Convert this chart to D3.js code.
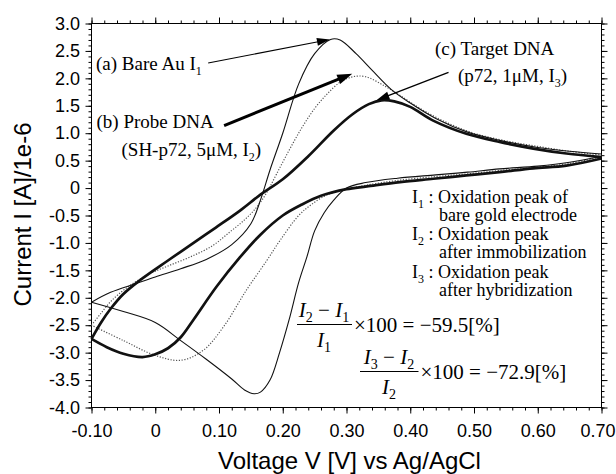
<!DOCTYPE html>
<html lang="en">
<head>
<meta charset="UTF-8">
<title>Cyclic voltammogram</title>
<script src="https://d3js.org/d3.v7.min.js"></script>
<style>
  body { margin: 0; background: #fff; }
  svg { display: block; }
</style>
</head>
<body>
<div id="chart"></div>
<script>
var width = 616, height = 474;
var margin = {top: 23.5, right: 14.5, bottom: 66.5, left: 91.5};

// axis ticks
var xTicks = [-0.1, 0, 0.1, 0.2, 0.3, 0.4, 0.5, 0.6, 0.7];
var xTickLabels = ["-0.10", "0", "0.10", "0.20", "0.30", "0.40", "0.50", "0.60", "0.70"];
var yTicks = [3, 2.5, 2, 1.5, 1, 0.5, 0, -0.5, -1, -1.5, -2, -2.5, -3, -3.5, -4];
var yTickLabels = ["3.0", "2.5", "2.0", "1.5", "1.0", "0.5", "0", "-0.5", "-1.0", "-1.5", "-2.0", "-2.5", "-3.0", "-3.5", "-4.0"];

// (a) Bare Au : forward scan then reverse scan
var bareV = [-0.10, -0.07, -0.03, 0.00, 0.04, 0.08, 0.12, 0.15, 0.165, 0.18, 0.20, 0.225, 0.25, 0.275, 0.29, 0.315, 0.34, 0.37, 0.40, 0.44, 0.49, 0.54, 0.60, 0.65, 0.70,
             0.70, 0.65, 0.60, 0.54, 0.49, 0.44, 0.38, 0.33, 0.30, 0.28, 0.265, 0.25, 0.238, 0.225, 0.21, 0.195, 0.18, 0.165, 0.155, 0.14, 0.12, 0.08, 0.04, 0.00, -0.05, -0.10];
var bareI = [-2.08, -1.90, -1.74, -1.62, -1.47, -1.30, -1.03, -0.65, -0.22, 0.33, 1.00, 1.90, 2.45, 2.71, 2.70, 2.45, 2.15, 1.80, 1.55, 1.27, 1.02, 0.87, 0.74, 0.67, 0.62,
             0.58, 0.47, 0.40, 0.35, 0.29, 0.24, 0.18, 0.10, 0.00, -0.22, -0.45, -0.78, -1.25, -1.72, -2.40, -3.00, -3.50, -3.72, -3.75, -3.68, -3.48, -3.12, -2.78, -2.45, -2.25, -2.08];

// (b) Probe DNA
var probeV = [-0.10, -0.085, -0.07, -0.045, -0.01, 0.02, 0.054, 0.09, 0.117, 0.14, 0.159, 0.175, 0.19, 0.21, 0.23, 0.25, 0.27, 0.29, 0.31, 0.33, 0.36, 0.385, 0.42, 0.46, 0.50, 0.55, 0.60, 0.65, 0.70,
              0.70, 0.65, 0.60, 0.54, 0.49, 0.44, 0.38, 0.33, 0.30, 0.27, 0.245, 0.225, 0.196, 0.175, 0.143, 0.107, 0.075, 0.04, 0.00, -0.05, -0.10];
var probeI = [-2.50, -2.28, -2.07, -1.82, -1.57, -1.42, -1.26, -1.05, -0.80, -0.58, -0.35, -0.08, 0.25, 0.69, 1.10, 1.45, 1.72, 1.93, 2.03, 2.03, 1.86, 1.68, 1.42, 1.18, 1.00, 0.86, 0.76, 0.67, 0.60,
              0.57, 0.45, 0.38, 0.32, 0.26, 0.21, 0.14, 0.05, -0.02, -0.12, -0.30, -0.50, -0.95, -1.32, -1.86, -2.53, -2.96, -3.14, -3.05, -2.78, -2.50];

// (c) Target DNA
var targetV = [-0.10, -0.085, -0.07, -0.05, -0.024, 0.02, 0.055, 0.095, 0.133, 0.165, 0.20, 0.24, 0.28, 0.31, 0.335, 0.355, 0.375, 0.40, 0.436, 0.488, 0.54, 0.593, 0.645, 0.70,
               0.70, 0.645, 0.593, 0.54, 0.488, 0.436, 0.384, 0.332, 0.30, 0.26, 0.23, 0.20, 0.165, 0.133, 0.096, 0.06, 0.04, 0.02, 0.00, -0.02, -0.05, -0.076, -0.10];
var targetI = [-2.75, -2.45, -2.20, -1.93, -1.68, -1.32, -1.04, -0.72, -0.41, -0.12, 0.16, 0.58, 1.05, 1.35, 1.53, 1.60, 1.58, 1.48, 1.23, 0.99, 0.84, 0.72, 0.63, 0.565,
               0.54, 0.41, 0.36, 0.29, 0.23, 0.17, 0.11, 0.03, -0.02, -0.14, -0.30, -0.50, -0.85, -1.26, -1.80, -2.40, -2.72, -2.92, -3.03, -3.08, -3.02, -2.90, -2.75];

// arrows: [from, to] in data units
var arrows = [
    {from: [0.083, 2.28], to: [0.274, 2.71], w: 1.1, head: 13, hw: 8},
    {from: [0.108, 1.14], to: [0.309, 2.085], w: 3, head: 15, hw: 10},
    {from: [0.460, 2.11], to: [0.347, 1.60], w: 1.3, head: 13, hw: 8}
];

var serif = "'Liberation Serif', 'Times New Roman', serif";
var sans = "'Liberation Sans', Arial, sans-serif";

var svg = d3.select("#chart").append("svg")
    .attr("width", width)
    .attr("height", height);

var x = d3.scaleLinear().domain([-0.1, 0.7]).range([margin.left, width - margin.right]);
var y = d3.scaleLinear().domain([-4, 3]).range([height - margin.bottom, margin.top]);

var xMinor = d3.range(-0.1, 0.7001, 0.02);
var yMinor = d3.range(-4, 3.001, 0.1);

function styleAxis(g) {
    g.select(".domain").remove();
    g.selectAll("line").attr("stroke", "#000");
    g.selectAll("text").attr("fill", "#000").attr("font-family", sans).attr("font-size", 18);
}

// minor ticks on all four sides
svg.append("g").attr("transform", "translate(0," + y(-4) + ")")
    .call(d3.axisBottom(x).tickValues(xMinor).tickSize(3).tickFormat("")).call(styleAxis);
svg.append("g").attr("transform", "translate(0," + y(3) + ")")
    .call(d3.axisTop(x).tickValues(xMinor).tickSize(3).tickFormat("")).call(styleAxis);
svg.append("g").attr("transform", "translate(" + x(-0.1) + ",0)")
    .call(d3.axisLeft(y).tickValues(yMinor).tickSize(3).tickFormat("")).call(styleAxis);
svg.append("g").attr("transform", "translate(" + x(0.7) + ",0)")
    .call(d3.axisRight(y).tickValues(yMinor).tickSize(3).tickFormat("")).call(styleAxis);

// major ticks
var xAxis = svg.append("g").attr("transform", "translate(0," + y(-4) + ")")
    .call(d3.axisBottom(x).tickValues(xTicks).tickSize(6).tickPadding(11)
        .tickFormat(function(d, i) { return xTickLabels[i]; }))
    .call(styleAxis);
// last label sits against the right edge
xAxis.selectAll(".tick text").filter(function(d) { return d === 0.7; }).attr("dx", -4);

svg.append("g").attr("transform", "translate(0," + y(3) + ")")
    .call(d3.axisTop(x).tickValues(xTicks).tickSize(6).tickFormat("")).call(styleAxis);
svg.append("g").attr("transform", "translate(" + x(-0.1) + ",0)")
    .call(d3.axisLeft(y).tickValues(yTicks).tickSize(6).tickPadding(5.5)
        .tickFormat(function(d, i) { return yTickLabels[i]; }))
    .call(styleAxis);
svg.append("g").attr("transform", "translate(" + x(0.7) + ",0)")
    .call(d3.axisRight(y).tickValues(yTicks).tickSize(6).tickFormat("")).call(styleAxis);

// frame
svg.append("rect")
    .attr("x", x(-0.1)).attr("y", y(3))
    .attr("width", x(0.7) - x(-0.1)).attr("height", y(-4) - y(3))
    .attr("fill", "none").attr("stroke", "#000").attr("stroke-width", 1);

// axis titles
svg.append("text")
    .attr("x", (x(-0.1) + x(0.7)) / 2 + 3).attr("y", 468.5)
    .attr("text-anchor", "middle")
    .attr("font-family", sans).attr("font-size", 24)
    .text("Voltage V [V] vs Ag/AgCl");
svg.append("text")
    .attr("transform", "translate(31," + ((y(3) + y(-4)) / 2 - 1) + ") rotate(-90)")
    .attr("text-anchor", "middle")
    .attr("font-family", sans).attr("font-size", 24)
    .text("Current I [A]/1e-6");

// curves: split each loop into forward and reverse scan
function scans(V, I) {
    var pts = V.map(function(v, k) { return [v, I[k]]; });
    var turn = V.indexOf(d3.max(V));
    return [pts.slice(0, turn + 1), pts.slice(turn + 1)];
}

var line = d3.line()
    .x(function(d) { return x(d[0]); })
    .y(function(d) { return y(d[1]); })
    .curve(d3.curveCatmullRom.alpha(0.5));

var series = [
    {V: probeV, I: probeI, stroke: "#555", width: 1.2, dash: "1.2,1.6"},
    {V: bareV, I: bareI, stroke: "#111", width: 1.1, dash: null},
    {V: targetV, I: targetI, stroke: "#111", width: 2.7, dash: null}
];

series.forEach(function(s) {
    svg.append("g").selectAll("path")
        .data(scans(s.V, s.I))
        .enter()
        .append("path")
        .attr("d", line)
        .attr("fill", "none")
        .attr("stroke", s.stroke)
        .attr("stroke-width", s.width)
        .attr("stroke-dasharray", s.dash)
        .attr("stroke-linejoin", "round");
});

// arrows
arrows.forEach(function(a) {
    var x1 = x(a.from[0]), y1 = y(a.from[1]), x2 = x(a.to[0]), y2 = y(a.to[1]);
    var ang = Math.atan2(y2 - y1, x2 - x1);
    var bx = x2 - a.head * Math.cos(ang), by = y2 - a.head * Math.sin(ang);
    var nx = -Math.sin(ang) * a.hw / 2, ny = Math.cos(ang) * a.hw / 2;
    svg.append("line")
        .attr("x1", x1).attr("y1", y1).attr("x2", bx + Math.cos(ang)).attr("y2", by + Math.sin(ang))
        .attr("stroke", "#000").attr("stroke-width", a.w);
    svg.append("path")
        .attr("d", "M" + x2 + "," + y2 + "L" + (bx + nx) + "," + (by + ny) + "L" + (bx - nx) + "," + (by - ny) + "Z")
        .attr("fill", "#000");
});

// text with subscripts; parts are strings or {t, sub, it}
function richText(px, py, parts, size, anchor) {
    var t = svg.append("text")
        .attr("x", px).attr("y", py)
        .attr("font-family", serif).attr("font-size", size)
        .attr("text-anchor", anchor || "start")
        .attr("fill", "#000");
    var shift = 0;
    parts.forEach(function(p) {
        if (typeof p === "string") p = {t: p};
        var target = p.sub ? Math.round(size * 0.25) : 0;
        var ts = t.append("tspan").attr("dy", target - shift).text(p.t);
        if (p.sub) ts.attr("font-size", Math.round(size * 0.65));
        if (p.it) ts.attr("font-style", "italic");
        shift = target;
    });
    return t;
}

// peak annotations
richText(96, 70, ["(a) Bare Au I", {t: "1", sub: true}], 19);
richText(96.5, 128, ["(b) Probe DNA"], 19);
richText(121.5, 156, ["(SH-p72, 5μM, I", {t: "2", sub: true}, ")"], 19);
richText(435, 55, ["(c) Target DNA"], 19);
richText(458, 82, ["(p72, 1μM, I", {t: "3", sub: true}, ")"], 19);

// legend notes
richText(412, 203, ["I", {t: "1", sub: true}, " : Oxidation peak of"], 18);
richText(439, 221, ["bare gold electrode"], 18);
richText(412, 240, ["I", {t: "2", sub: true}, " : Oxidation peak"], 18);
richText(439, 258, ["after immobilization"], 18);
richText(412, 278, ["I", {t: "3", sub: true}, " : Oxidation peak"], 18);
richText(439, 296, ["after hybridization"], 18);

// ratio formulas
function fraction(cx, barY, x0, x1, num, den, rest) {
    richText(cx, barY - 7.5, num, 21, "middle");
    svg.append("line")
        .attr("x1", x0).attr("x2", x1).attr("y1", barY).attr("y2", barY)
        .attr("stroke", "#000").attr("stroke-width", 1);
    richText(cx, barY + 22, den, 21, "middle");
    richText(x1 + 2, barY + 7, [rest], 21);
}

fraction(324, 324.5, 297, 352,
    [{t: "I", it: true}, {t: "2", sub: true}, " − ", {t: "I", it: true}, {t: "1", sub: true}],
    [{t: "I", it: true}, {t: "1", sub: true}],
    "×100 = −59.5[%]");
fraction(389, 371.5, 360, 418.5,
    [{t: "I", it: true}, {t: "3", sub: true}, " − ", {t: "I", it: true}, {t: "2", sub: true}],
    [{t: "I", it: true}, {t: "2", sub: true}],
    "×100 = −72.9[%]");
</script>
</body>
</html>
